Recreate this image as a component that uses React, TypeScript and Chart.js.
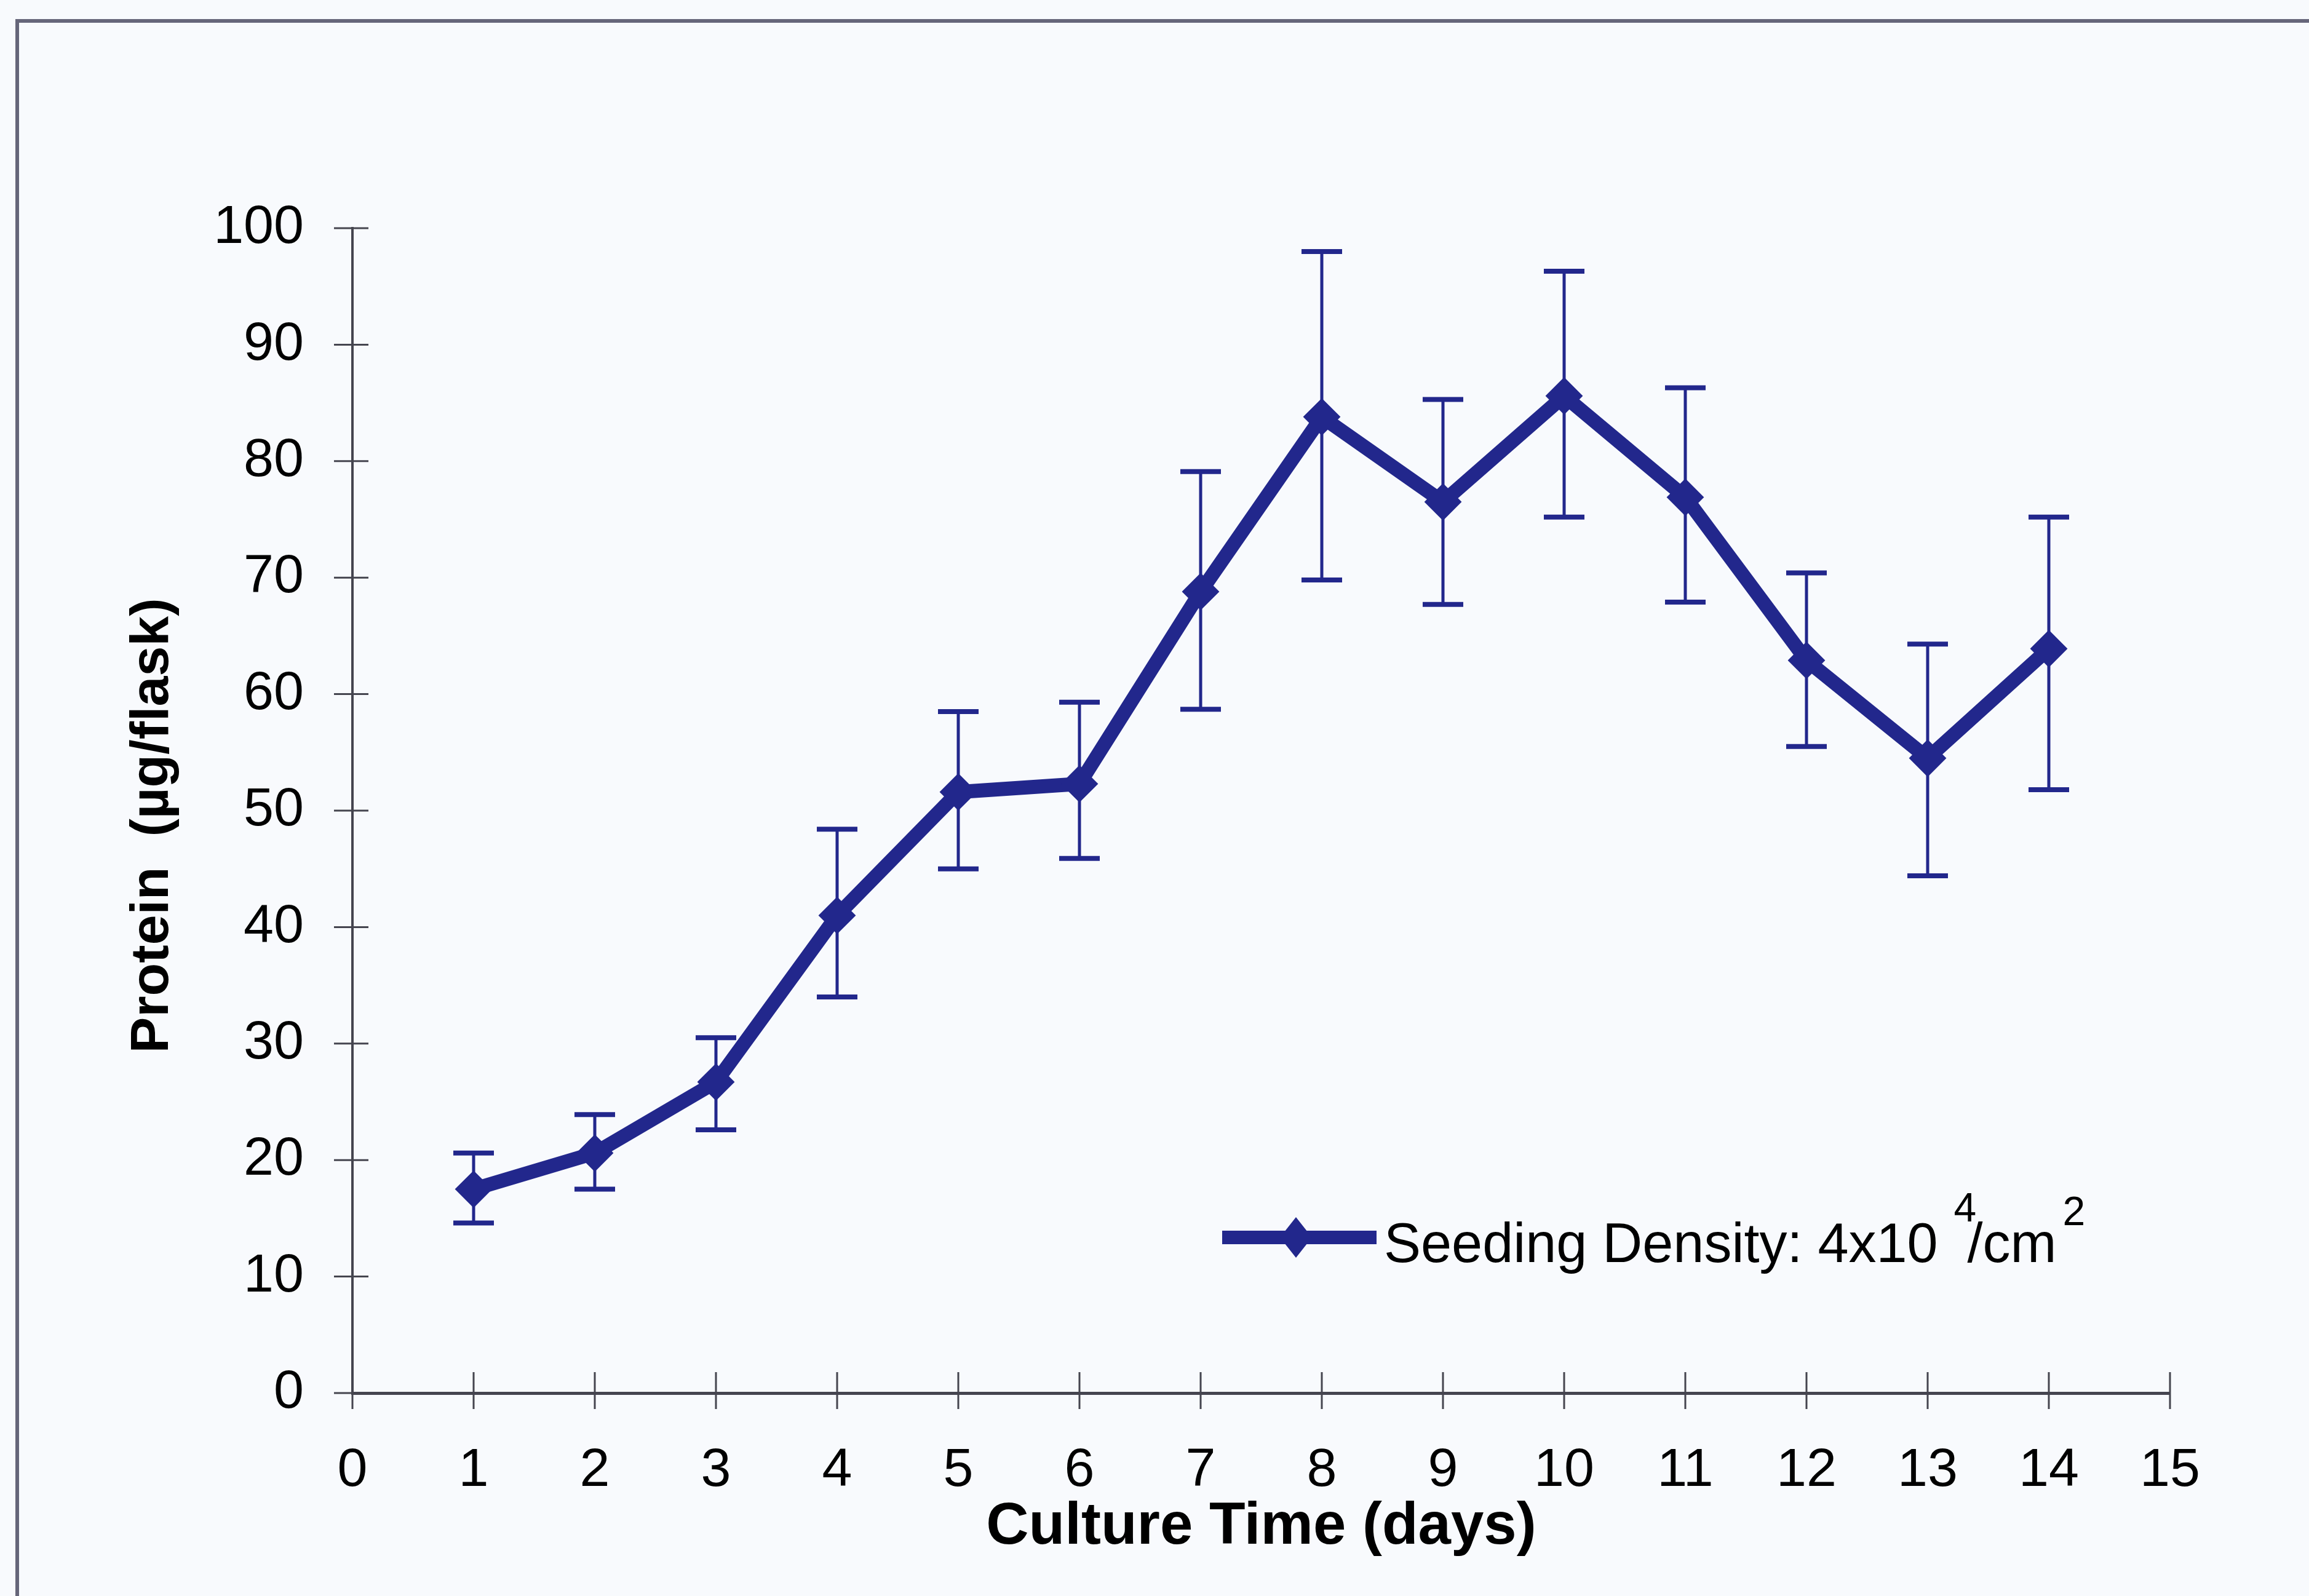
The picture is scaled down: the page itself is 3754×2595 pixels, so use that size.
import React, { useEffect, useRef } from "react";
import { Chart, registerables } from "chart.js";

Chart.register(...registerables);

// ---- data ----
const days = [1, 2, 3, 4, 5, 6, 7, 8, 9, 10, 11, 12, 13, 14];
const proteinMean = [17.5, 20.6, 26.7, 41.0, 51.6, 52.3, 68.8, 83.8, 76.5, 85.6, 76.9, 62.9, 54.5, 63.9];
const errorUpper = [20.6, 23.9, 30.5, 48.4, 58.5, 59.3, 79.1, 98.0, 85.3, 96.3, 86.3, 70.4, 64.3, 75.2];
const errorLower = [14.6, 17.5, 22.6, 34.0, 45.0, 45.9, 58.7, 69.8, 67.7, 75.2, 67.9, 55.5, 44.4, 51.8];
const xTickMin = 0;
const xTickMax = 15;
const yTickMin = 0;
const yTickMax = 100;
const yTickStep = 10;
const xTitle = "Culture Time (days)";
const yTitle = "Protein  (µg/flask)  ";
const legendMain = "Seeding Density: 4x10";
const legendSup1 = "4";
const legendUnit = "/cm";
const legendSup2 = "2";

const W = 3754;
const H = 2595;
const NAVY = "#22278c";
const AXIS = "#45454f";
const BG = "#f8fafd";
const FONT = "'Liberation Sans', Arial, Helvetica, sans-serif";

const bgPlugin = {
  id: "bgFrame",
  beforeDraw(chart: any) {
    const { ctx, width, height } = chart;
    ctx.save();
    ctx.fillStyle = BG;
    ctx.fillRect(0, 0, width, height);
    ctx.strokeStyle = "#66667a";
    ctx.lineWidth = 6;
    ctx.beginPath();
    ctx.moveTo(28, height);
    ctx.lineTo(28, 34);
    ctx.lineTo(width, 34);
    ctx.stroke();
    ctx.restore();
  },
};

const crossTicksPlugin = {
  id: "crossTicks",
  afterDraw(chart: any) {
    const { ctx, chartArea, scales } = chart;
    const xs = scales.x;
    const ys = scales.y;
    ctx.save();
    ctx.strokeStyle = AXIS;
    ctx.lineWidth = 3;
    ctx.beginPath();
    xs.ticks.forEach((t: any) => {
      const px = xs.getPixelForValue(t.value);
      ctx.moveTo(px, chartArea.bottom - 34);
      ctx.lineTo(px, chartArea.bottom + 26);
    });
    ys.ticks.forEach((t: any) => {
      const py = ys.getPixelForValue(t.value);
      ctx.moveTo(chartArea.left - 30, py);
      ctx.lineTo(chartArea.left + 26, py);
    });
    ctx.stroke();
    ctx.restore();
  },
};

const errorBarPlugin = {
  id: "errorBars",
  beforeDatasetsDraw(chart: any) {
    const { ctx, scales } = chart;
    const xs = scales.x;
    const ys = scales.y;
    ctx.save();
    ctx.strokeStyle = NAVY;
    days.forEach((d, i) => {
      const px = xs.getPixelForValue(d);
      const yt = ys.getPixelForValue(errorUpper[i]);
      const yb = ys.getPixelForValue(errorLower[i]);
      ctx.lineWidth = 5;
      ctx.beginPath();
      ctx.moveTo(px, yt);
      ctx.lineTo(px, yb);
      ctx.stroke();
      ctx.lineWidth = 8;
      ctx.beginPath();
      ctx.moveTo(px - 33, yt);
      ctx.lineTo(px + 33, yt);
      ctx.moveTo(px - 33, yb);
      ctx.lineTo(px + 33, yb);
      ctx.stroke();
    });
    ctx.restore();
  },
};

const legendPlugin = {
  id: "customLegend",
  afterDraw(chart: any) {
    const { ctx } = chart;
    const lineX0 = 1987;
    const lineX1 = 2238;
    const lineY = 2012;
    ctx.save();
    ctx.strokeStyle = NAVY;
    ctx.lineWidth = 22;
    ctx.lineCap = "butt";
    ctx.beginPath();
    ctx.moveTo(lineX0, lineY);
    ctx.lineTo(lineX1, lineY);
    ctx.stroke();
    // diamond marker
    const cx = 2107;
    ctx.fillStyle = NAVY;
    ctx.beginPath();
    ctx.moveTo(cx, lineY - 33);
    ctx.lineTo(cx + 26, lineY);
    ctx.lineTo(cx, lineY + 33);
    ctx.lineTo(cx - 26, lineY);
    ctx.closePath();
    ctx.fill();
    // text
    const baseY = 2052;
    let x = 2250;
    ctx.fillStyle = "#000";
    ctx.textBaseline = "alphabetic";
    ctx.textAlign = "left";
    ctx.font = `90px ${FONT}`;
    ctx.fillText(legendMain, x, baseY);
    x += ctx.measureText(legendMain).width;
    ctx.font = `66px ${FONT}`;
    ctx.fillText(legendSup1, x + 26, baseY - 66);
    ctx.font = `90px ${FONT}`;
    const ux = x + 48;
    ctx.fillText(legendUnit, ux, baseY);
    const ex = ux + ctx.measureText(legendUnit).width + 10;
    ctx.font = `66px ${FONT}`;
    ctx.fillText(legendSup2, ex, baseY - 60);
    ctx.restore();
  },
};

export default function App() {
  const canvasRef = useRef<HTMLCanvasElement | null>(null);

  useEffect(() => {
    const canvas = canvasRef.current;
    if (!canvas) return;
    const chart = new Chart(canvas, {
      type: "line",
      data: {
        datasets: [
          {
            label: legendMain + legendSup1 + legendUnit + legendSup2,
            data: days.map((d, i) => ({ x: d, y: proteinMean[i] })),
            borderColor: NAVY,
            backgroundColor: NAVY,
            borderWidth: 23,
            borderJoinStyle: "round",
            borderCapStyle: "round",
            tension: 0,
            pointStyle: "rectRot",
            pointRadius: 29,
            pointBackgroundColor: NAVY,
            pointBorderColor: NAVY,
            pointBorderWidth: 2,
            fill: false,
          },
        ],
      },
      options: {
        animation: false,
        responsive: false,
        devicePixelRatio: 1,
        events: [],
        layout: { padding: { left: 0, top: 371, right: W - 3528, bottom: 0 } },
        plugins: {
          legend: { display: false },
          tooltip: { enabled: false },
        },
        scales: {
          x: {
            type: "linear",
            min: xTickMin,
            max: xTickMax,
            afterFit: (s: any) => {
              s.height = H - 2265;
            },
            ticks: {
              stepSize: 1,
              padding: 74,
              color: "#000",
              font: { family: FONT, size: 88 },
              maxRotation: 0,
              autoSkip: false,
            },
            grid: { display: false, drawTicks: false },
            border: { display: true, color: AXIS, width: 5 },
            title: {
              display: true,
              text: xTitle,
              color: "#000",
              font: { family: FONT, size: 96, weight: "bold" },
              padding: { top: 0, bottom: 54 },
            },
          },
          y: {
            type: "linear",
            min: yTickMin,
            max: yTickMax,
            afterFit: (s: any) => {
              s.width = 573;
            },
            ticks: {
              stepSize: yTickStep,
              padding: 79,
              color: "#000",
              font: { family: FONT, size: 88 },
              autoSkip: false,
            },
            grid: { display: false, drawTicks: false },
            border: { display: true, color: AXIS, width: 4 },
            title: {
              display: true,
              text: yTitle,
              color: "#000",
              font: { family: FONT, size: 88, weight: "bold" },
              padding: { top: 196, bottom: 0 },
            },
          },
        },
      },
      plugins: [bgPlugin, errorBarPlugin, crossTicksPlugin, legendPlugin],
    } as any);
    return () => chart.destroy();
  }, []);

  return (
    <div style={{ position: "absolute", left: 0, top: 0, width: W, height: H }}>
      <canvas ref={canvasRef} width={W} height={H} style={{ width: W, height: H, display: "block" }} />
    </div>
  );
}
